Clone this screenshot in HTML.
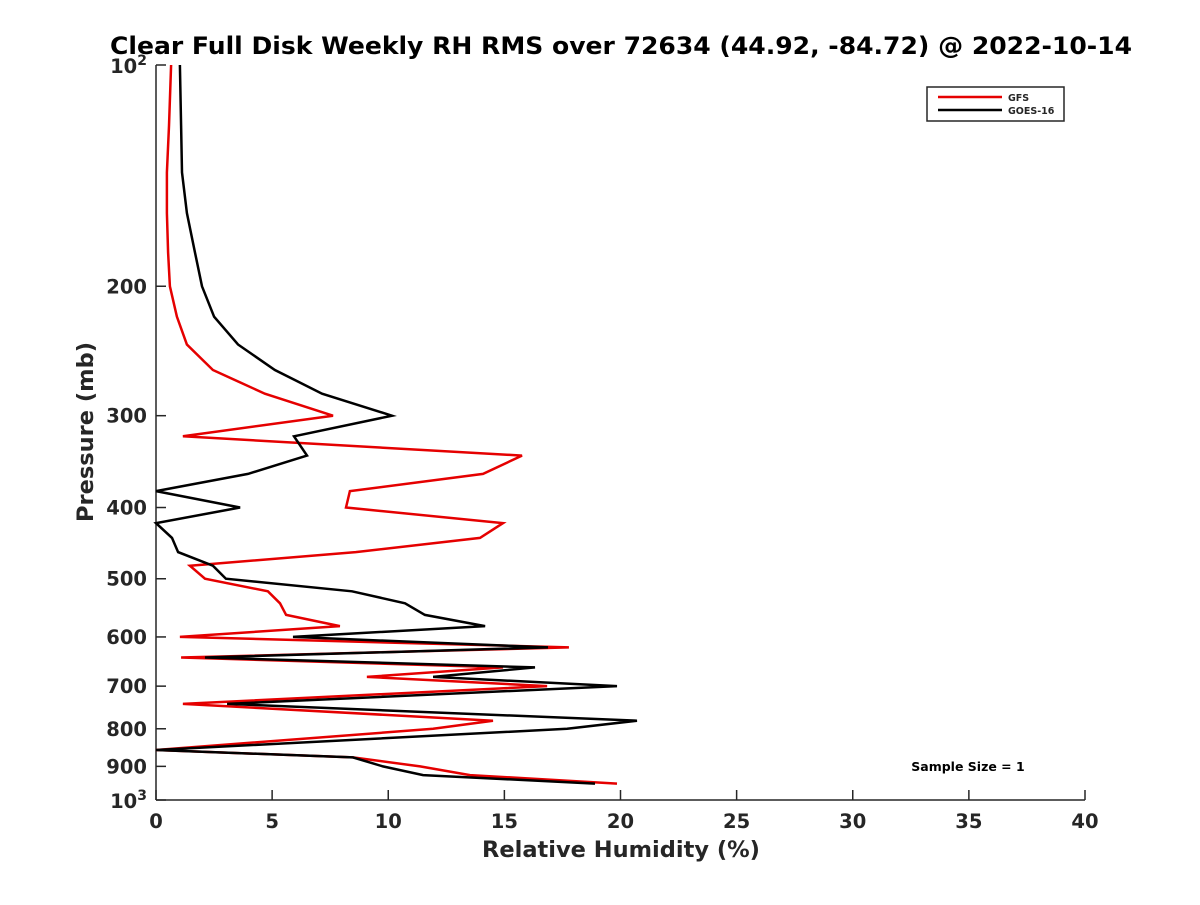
<!DOCTYPE html>
<html><head><meta charset="utf-8"><style>
body{margin:0;background:#fff;}
svg text{font-family:"DejaVu Sans","Liberation Sans",sans-serif;font-weight:bold;fill:#262626;}
</style></head><body>
<svg id="chart" width="1200" height="900" viewBox="0 0 1200 900" xmlns="http://www.w3.org/2000/svg">
<rect width="1200" height="900" fill="#fff"/>
<text x="621" y="54" font-size="24" text-anchor="middle" textLength="1022" lengthAdjust="spacingAndGlyphs" style="fill:#000">Clear Full Disk Weekly RH RMS over 72634 (44.92, -84.72) @ 2022-10-14</text>
<g id="axes"></g>
<g id="series"></g>
<g>
<rect x="927" y="87" width="137" height="34" fill="#fff" stroke="#262626" stroke-width="1.5"/>
<line x1="938" y1="97" x2="1002" y2="97" stroke="#e50000" stroke-width="2.5"/>
<text x="1008" y="101" font-size="9.5">GFS</text>
<line x1="938" y1="110" x2="1002" y2="110" stroke="#000" stroke-width="2.5"/>
<text x="1008" y="114" font-size="9.5">GOES-16</text>
</g>
<text x="968" y="771" font-size="12.5" text-anchor="middle" style="fill:#000">Sample Size = 1</text>
<text x="621" y="857" font-size="22.5" text-anchor="middle">Relative Humidity (%)</text>
<text transform="translate(93,432) rotate(-90)" font-size="22.5" text-anchor="middle">Pressure (mb)</text>
</svg>
<script>
const pressures=[100,121,140,159,180,200,220,240,260,280,300,320,340,360,380,400,420,440,460,480,500,520,540,560,580,600,620,640,660,680,700,740,780,800,855,875,900,925,950];
const gfs=[0.65,0.56,0.47,0.47,0.52,0.6,0.9,1.33,2.45,4.69,7.62,1.16,15.76,14.08,8.35,8.18,14.94,13.95,8.6,1.46,2.11,4.82,5.34,5.6,7.92,1.03,17.78,1.08,14.94,9.08,16.84,1.16,14.51,11.93,0,8.48,11.37,13.52,19.85];
const goes=[1.03,1.08,1.12,1.33,1.68,1.98,2.5,3.53,5.12,7.15,10.16,5.94,6.5,3.96,0,3.62,0,0.69,0.95,2.45,3.01,8.44,10.72,11.58,14.17,5.9,16.88,2.11,16.32,11.93,19.85,3.06,20.71,17.7,0,8.48,9.77,11.5,18.9];
const xTicks=[0,5,10,15,20,25,30,35,40];
const yTicks=[200,300,400,500,600,700,800,900];
const X0=156,X1=1085,Y0=65,Y1=800;
const xs=v=>X0+(v-0)/(40-0)*(X1-X0);
const ys=p=>Y0+(Math.log10(p)-2)*(Y1-Y0);
const NS="http://www.w3.org/2000/svg";
const ax=document.getElementById('axes'),sr=document.getElementById('series');
function mk(tag,attrs,parent){const e=document.createElementNS(NS,tag);for(const k in attrs)e.setAttribute(k,attrs[k]);parent.appendChild(e);return e;}
let l=mk('line',{x1:X0,y1:Y0,x2:X0,y2:Y1,stroke:'#262626','stroke-width':1.5},ax);


l=mk('line',{x1:X0,y1:Y1,x2:X1,y2:Y1,stroke:'#262626','stroke-width':1.5},ax);


xTicks.forEach(v=>{const x=xs(v);
 mk('line',{x1:x,y1:Y1,x2:x,y2:Y1-10,stroke:'#262626','stroke-width':1.5},ax);
 const t=mk('text',{x:x,y:Y1+28,'font-size':19.5,'text-anchor':'middle'},ax);t.textContent=v;
 
 });
[100,1000].concat(yTicks).forEach(p=>{const y=ys(p);
 mk('line',{x1:X0,y1:y,x2:X0+10,y2:y,stroke:'#262626','stroke-width':1.5},ax);});
yTicks.forEach(p=>{const y=ys(p);
 const t=mk('text',{x:X0-9,y:y+7,'font-size':19.5,'text-anchor':'end'},ax);t.textContent=p;
 
 });
[[100,'2'],[1000,'3']].forEach(([p,e])=>{const y=ys(p);
 const t=mk('text',{x:X0-9,y:y+8,'font-size':19.5,'text-anchor':'end'},ax);
 t.innerHTML='10<tspan dy="-8" font-size="14">'+e+'</tspan>';
 
 });
function line(vals,color,name){const d=vals.map((v,i)=>(i?'L':'M')+xs(v).toFixed(1)+','+ys(pressures[i]).toFixed(1)).join('');
 const p=mk('path',{d:d,fill:'none',stroke:color,'stroke-width':2.5,'stroke-linejoin':'miter'},sr);
 
 }
line(gfs,'#e50000','gfs-line');
line(goes,'#000','goes16-line');
</script>
</body></html>
